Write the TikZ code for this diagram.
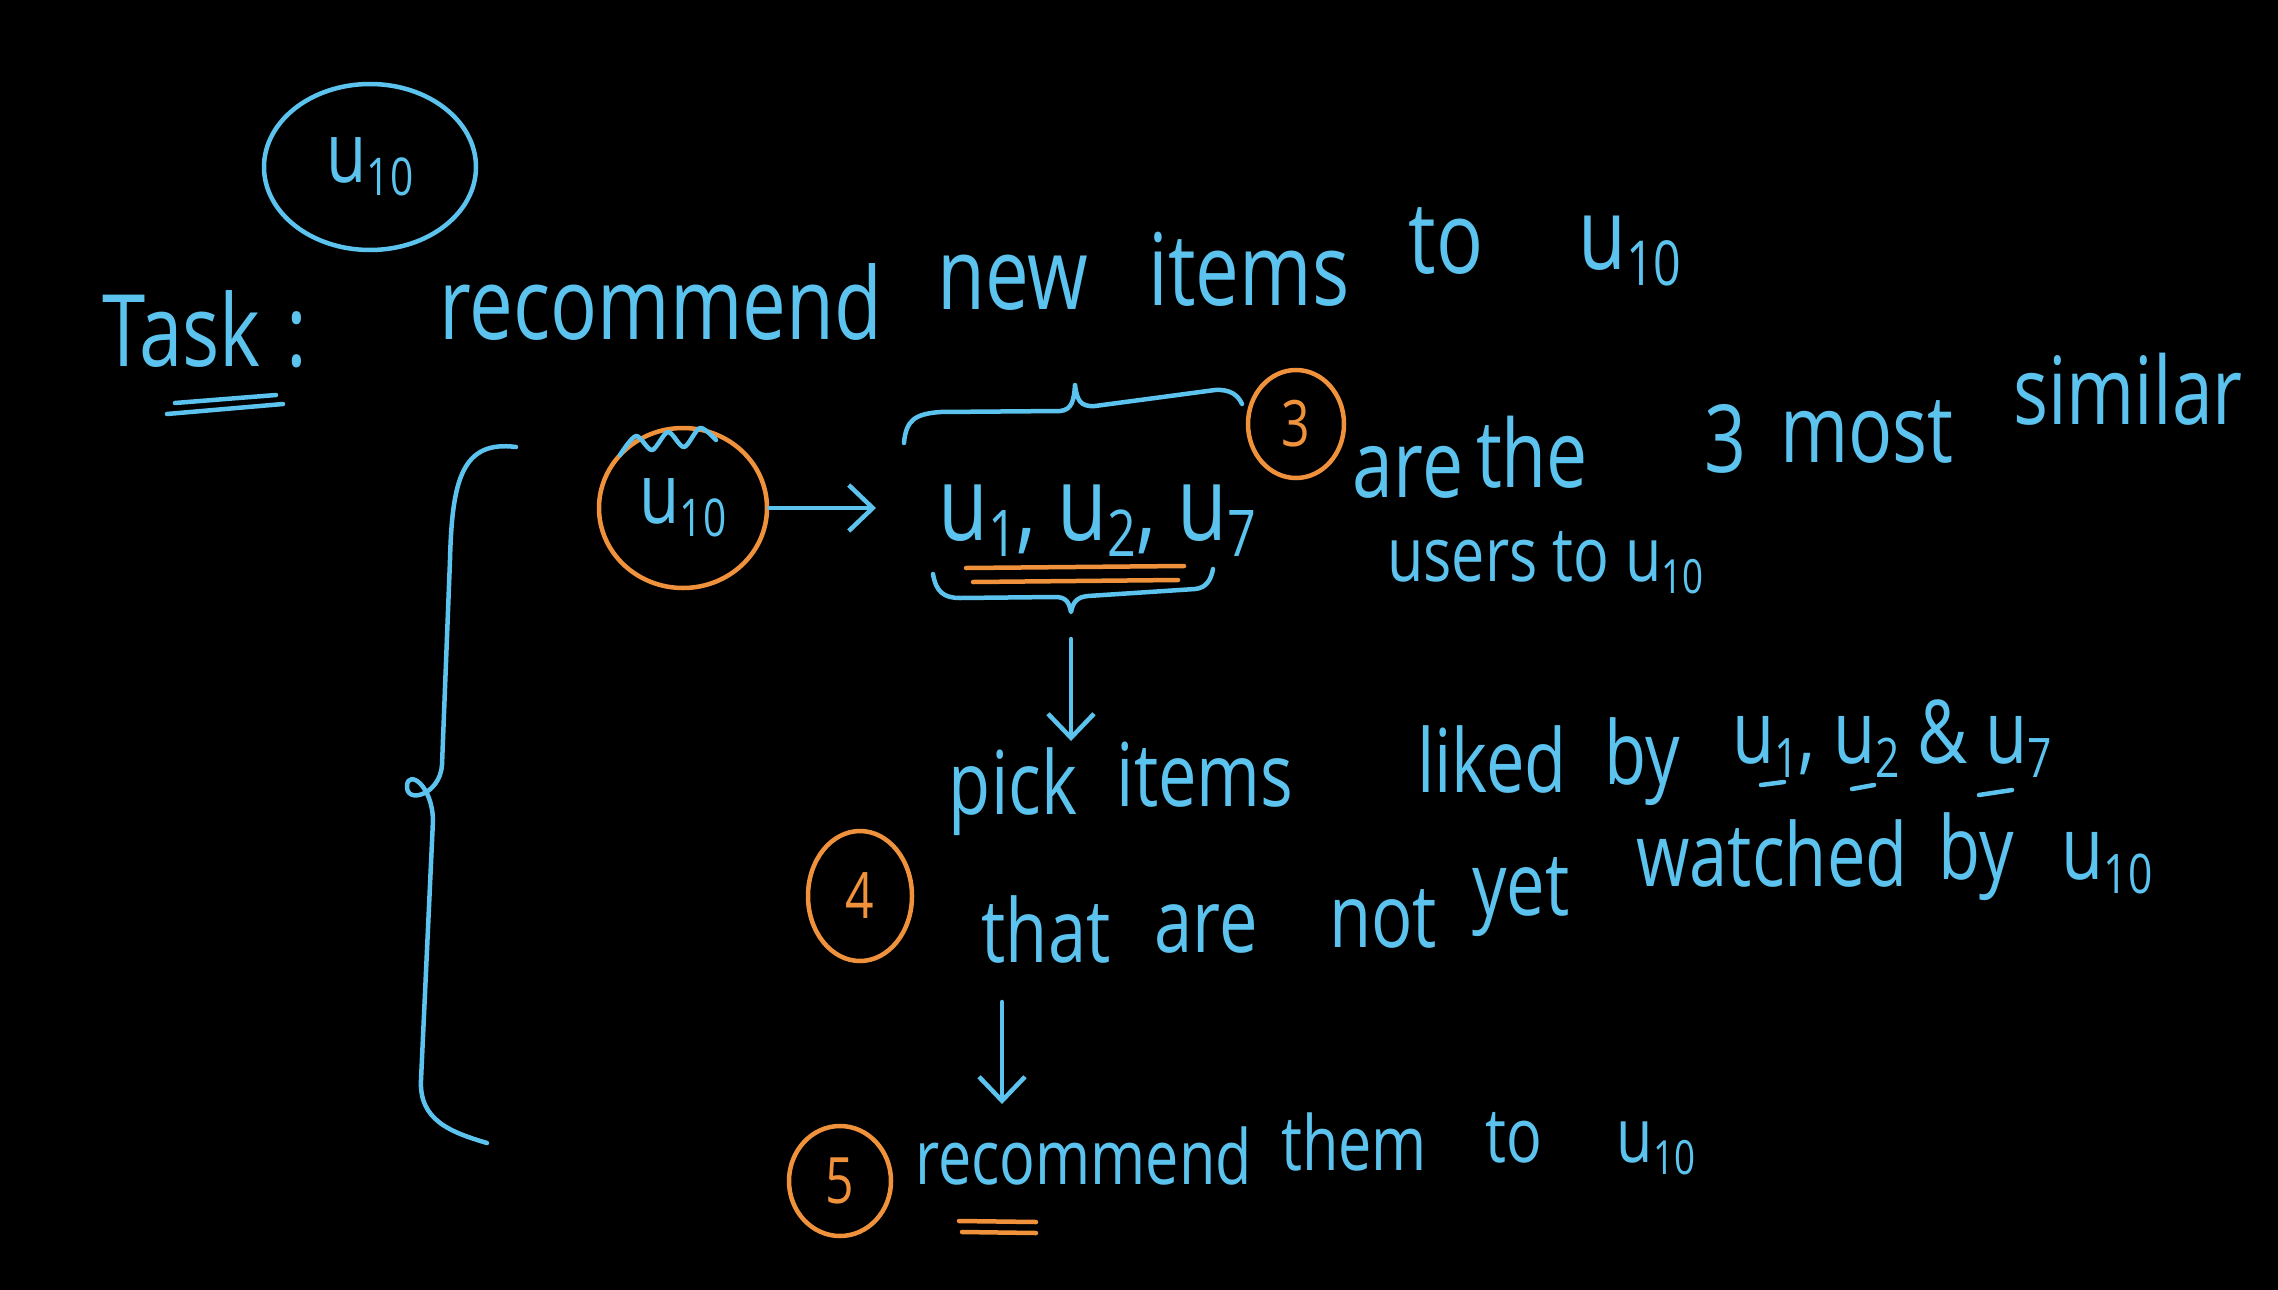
\documentclass[tikz,border=0pt]{standalone}
\usepackage{fontspec}
\usepackage{graphicx}
\setmainfont{Open Sans}[FakeStretch=0.78]
\usetikzlibrary{arrows.meta,shapes.geometric}
\definecolor{chalkblue}{HTML}{5CC3EE}
\definecolor{chalkorange}{HTML}{F0923C}
\newcommand\sbs[1]{\raisebox{-0.16em}{\scalebox{0.62}{#1}}}
\begin{document}
\begin{tikzpicture}[x=1pt,y=-1pt,
  ink/.style={draw=chalkblue,line width=4.5pt,line cap=round,line join=round},
  oink/.style={draw=chalkorange,line width=4.5pt,line cap=round,line join=round},
  hand/.style={text=chalkblue,inner sep=0pt,anchor=base},
  big/.style={hand,font=\fontsize{100}{110}\selectfont},
  sim/.style={hand,font=\fontsize{94}{100}\selectfont},
  mid/.style={hand,font=\fontsize{88}{96}\selectfont},
  sml/.style={hand,font=\fontsize{76}{84}\selectfont},
  ring/.style={ellipse,draw=chalkorange,line width=4.5pt,text=chalkorange,inner sep=0pt,font=\fontsize{64}{70}\selectfont},
  bring/.style={ellipse,draw=chalkblue,line width=4.5pt,text=chalkblue,inner sep=0pt,font=\fontsize{84}{90}\selectfont},
  arr/.style={ink,-{Straight Barb[length=24pt,width=46pt,line width=4.5pt]}}
]
\fill[black] (0,0) rectangle (2278,1290);
\useasboundingbox (0,0) rectangle (2278,1290);

% top circle
\node[bring,minimum width=212pt,minimum height=166pt] (topu) at (370,167) {u\sbs{10}};

% task line
\node[big,anchor=base west] (task) at (102,366) {Task\hspace{26pt}:};
\node[big] (r1) at (661,339) {recommend};
\node[big] (r2) at (1013,309) {new};
\node[big] (r3) at (1249,305) {items};
\node[big] (r4) at (1446,273) {to};
\node[big] (r5) at (1630,269) {u\sbs{10}};
\draw[ink] (167,414) -- (283,404);
\draw[ink] (175,403) -- (276,395);

% big left brace
\draw[ink] (516,447) .. controls (462,440) and (452,480) .. (450,560)
  -- (442,765) .. controls (440,795) and (405,805) .. (407,785)
  .. controls (409,770) and (432,785) .. (433,820)
  -- (421,1080) .. controls (419,1120) and (450,1132) .. (487,1143);

% orange circle u10
\node[ring,minimum width=168pt,minimum height=160pt,text=chalkblue,font=\fontsize{84}{90}\selectfont] (ou) at (683,508) {u\sbs{10}};
\draw[ink] plot[smooth] coordinates {(620,455) (636,436) (652,450) (668,432) (684,447) (700,428) (716,440)};

% set of users
\node[hand,font=\fontsize{104}{110}\selectfont] (uset) at (1097,540) {u\sbs{1}, u\sbs{2}, u\sbs{7}};
\coordinate (ae) at (876,508);
\draw[arr] (ou.east) -- (ae);

% top brace
\draw[ink] (904,443) .. controls (906,420) and (915,414) .. (940,412)
  -- (1060,411) .. controls (1072,410) and (1074,400) .. (1075,385)
  .. controls (1077,400) and (1080,407) .. (1095,406)
  -- (1215,390) .. controls (1230,389) and (1238,395) .. (1242,404);
% bottom brace
\draw[ink] (933,574) .. controls (936,592) and (944,598) .. (960,598)
  -- (1055,597) .. controls (1066,597) and (1069,602) .. (1071,612)
  .. controls (1073,602) and (1077,597) .. (1088,596)
  -- (1195,589) .. controls (1206,588) and (1211,580) .. (1213,569);
% orange double underline
\draw[oink] (966,568) -- (1184,566);
\draw[oink] (973,582) -- (1178,580);

% 3
\node[ring,minimum width=96pt,minimum height=108pt] (three) at (1296,424) {3};
\node[sim] (s1) at (1408,497) {are};
\node[sim] (s2) at (1532,487) {the};
\node[sim] (s3) at (1725,472) {3};
\node[sim] (s4) at (1867,462) {most};
\node[sim] (s5) at (2128,424) {similar};
\node[sml,anchor=base west] (users) at (1387,581) {users to u\sbs{10}};

% arrow 1
\coordinate (a1s) at (1071,639);
\coordinate (a1e) at (1071,741);
\draw[arr] (a1s) -- (a1e);
\node[mid] (p1) at (1013,814) {pick};
\node[mid] (p2) at (1205,806) {items};
\node[mid] (p3) at (1492,792) {liked};
\node[mid] (p4) at (1642,784) {by};
\node[mid] (p5) at (1892,763) {u\sbs{1}, u\sbs{2} \& u\sbs{7}};
\draw[ink] (1761,785) -- (1784,782);
\draw[ink] (1852,789) -- (1874,785);
\draw[ink] (1979,795) -- (2012,790);

% 4
\node[ring,minimum width=104pt,minimum height=130pt] (four) at (860,896) {4};
\node[mid] (t1) at (1046,962) {that};
\node[mid] (t2) at (1206,952) {are};
\node[mid] (t3) at (1383,947) {not};
\node[mid] (t4) at (1521,915) {yet};
\node[mid] (t5) at (1772,886) {watched};
\node[mid] (t6) at (1976,879) {by};
\node[mid] (t7) at (2107,879) {u\sbs{10}};

% arrow 2
\coordinate (a2s) at (1002,1002);
\coordinate (a2e) at (1002,1104);
\draw[arr] (a2s) -- (a2e);

% 5
\node[ring,minimum width=102pt,minimum height=110pt] (five) at (840,1181) {5};
\node[sml,anchor=base west] (m1) at (915,1184) {recommend};
\node[sml] (m2) at (1354,1170) {them};
\node[sml] (m3) at (1514,1162) {to};
\node[sml] (m4) at (1656,1162) {u\sbs{10}};
\draw[oink] (959,1221) -- (1036,1222);
\draw[oink] (962,1232) -- (1036,1233);
\end{tikzpicture}
\end{document}
